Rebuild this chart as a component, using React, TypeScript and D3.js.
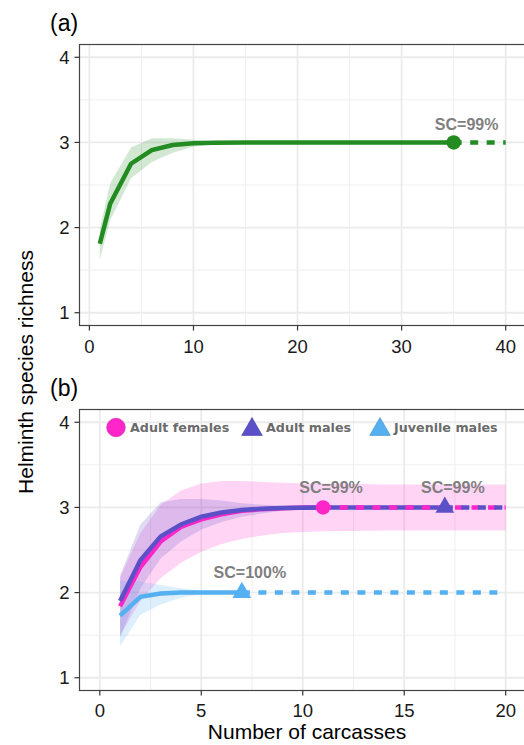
import * as d3 from "d3";

// panel (a): all carcasses
const xA = [1, 2, 4, 6, 8, 10, 12, 15, 20, 25, 30, 35];
const yA = [1.81, 2.28, 2.75, 2.91, 2.97, 2.99, 2.997, 3, 3, 3, 3, 3];
const loA = [1.62, 2.09, 2.58, 2.77, 2.88, 2.95, 2.98, 3, 3, 3, 3, 3];
const hiA = [1.98, 2.52, 2.94, 3.05, 3.05, 3.03, 3.01, 3, 3, 3, 3, 3];
const xAExt = [35, 40];
const yAExt = [3, 3];

// panel (b): by host group
const groups = ["Adult females", "Adult males", "Juvenile males"];
const colors = ["#FF26C9", "#5B50C8", "#55B0F2"];
const coverage = ["SC=99%", "SC=99%", "SC=100%"];

const xF = [1, 2, 3, 4, 5, 6, 7, 8, 9, 10, 11];
const yF = [1.84, 2.3, 2.6, 2.77, 2.86, 2.92, 2.96, 2.98, 2.99, 3, 3];
const loF = [1.5, 1.9, 2.17, 2.35, 2.48, 2.57, 2.63, 2.67, 2.7, 2.71, 2.72];
const hiF = [2.18, 2.7, 3.03, 3.2, 3.28, 3.31, 3.31, 3.3, 3.29, 3.28, 3.28];
const xFExt = [11, 14, 17, 20];
const yFExt = [3, 3, 3, 3];
const loFExt = [2.72, 2.73, 2.73, 2.73];
const hiFExt = [3.28, 3.27, 3.27, 3.27];

const xM = [1, 2, 3, 4, 5, 6, 7, 8, 9, 10, 11, 12, 13, 14, 15, 16, 17];
const yM = [1.9, 2.38, 2.66, 2.8, 2.89, 2.94, 2.97, 2.985, 2.993, 2.997, 3, 3, 3, 3, 3, 3, 3];
const loM = [1.47, 2.05, 2.4, 2.6, 2.74, 2.83, 2.89, 2.93, 2.96, 2.98, 2.99, 3, 3, 3, 3, 3, 3];
const hiM = [2.2, 2.8, 3.06, 3.1, 3.1, 3.08, 3.05, 3.03, 3.02, 3.01, 3.005, 3, 3, 3, 3, 3, 3];
const xMExt = [17, 20];
const yMExt = [3, 3];

const xJ = [1, 2, 3, 4, 5, 6, 7];
const yJ = [1.73, 1.95, 1.99, 2, 2, 2, 2];
const loJ = [1.37, 1.74, 1.86, 1.94, 1.98, 2, 2];
const hiJ = [2.14, 2.13, 2.09, 2.05, 2.02, 2.01, 2];
const xJExt = [7, 20];
const yJExt = [2, 2];

const yTicks = [1, 2, 3, 4];
const yMinor = [1.5, 2.5, 3.5];
const xTicksA = [0, 10, 20, 30, 40];
const xMinorA = [5, 15, 25, 35];
const xTicksB = [0, 5, 10, 15, 20];
const xMinorB = [2.5, 7.5, 12.5, 17.5];

const FONT = "'Liberation Sans', Arial, Helvetica, sans-serif";
const LEFT = 79.5;
const RIGHT = 526; // panel runs off the right edge, like the reference

type Band = { x: number[]; lo: number[]; hi: number[]; fill: string };
type Line = { x: number[]; y: number[]; color: string; dashed?: boolean };
type Mark = { x: number; y: number; color: string; shape: "circle" | "triangle"; label: string };

function Panel(props: {
  top: number;
  bottom: number;
  xDomain: [number, number];
  xTicks: number[];
  xMinor: number[];
  tag: string;
  bands: Band[];
  lines: Line[];
  marks: Mark[];
  labelDx: number;
  labelDy: number;
  tickDy: number;
  children?: any;
}) {
  const { top, bottom } = props;
  const x = d3.scaleLinear().domain(props.xDomain).range([LEFT, RIGHT]);
  const y = d3.scaleLinear().domain([0.85, 4.15]).range([bottom, top]);
  const line = (xs: number[], ys: number[]) =>
    d3
      .line<number>()
      .x((d) => x(d))
      .y((_, i) => y(ys[i]))(xs) || "";
  const band = (b: Band) =>
    d3
      .area<number>()
      .x((d) => x(d))
      .y0((_, i) => y(b.lo[i]))
      .y1((_, i) => y(b.hi[i]))(b.x) || "";

  return (
    <g>
      <text x={50} y={top - 13.5} fontFamily={FONT} fontSize={23} fill="#000">
        {props.tag}
      </text>
      {/* grid */}
      {props.xMinor.map((t) => (
        <line key={"xm" + t} x1={x(t)} x2={x(t)} y1={top} y2={bottom} stroke="#EDEDED" strokeWidth={0.9} />
      ))}
      {yMinor.map((t) => (
        <line key={"ym" + t} x1={LEFT} x2={RIGHT} y1={y(t)} y2={y(t)} stroke="#EDEDED" strokeWidth={0.9} />
      ))}
      {props.xTicks.map((t) => (
        <line key={"xg" + t} x1={x(t)} x2={x(t)} y1={top} y2={bottom} stroke="#EBEBEB" strokeWidth={1.8} />
      ))}
      {yTicks.map((t) => (
        <line key={"yg" + t} x1={LEFT} x2={RIGHT} y1={y(t)} y2={y(t)} stroke="#EBEBEB" strokeWidth={1.8} />
      ))}
      {/* confidence bands */}
      {props.bands.map((b, i) => (
        <path key={"b" + i} d={band(b)} fill={b.fill} fillOpacity={0.2} stroke="none" />
      ))}
      {/* rarefaction (solid) then extrapolation (dashed) */}
      {props.lines.map((l, i) => (
        <path
          key={"l" + i}
          d={line(l.x, l.y)}
          fill="none"
          stroke={l.color}
          strokeWidth={4.5}
          strokeDasharray={l.dashed ? "8,8.5" : undefined}
        />
      ))}
      {/* observed points */}
      {props.marks.map((m, i) => (
        <g key={"m" + i}>
          <path
            transform={`translate(${x(m.x)},${y(m.y)})`}
            d={
              d3
                .symbol()
                .type(m.shape === "circle" ? d3.symbolCircle : d3.symbolTriangle)
                .size(m.shape === "circle" ? 165 : 152)() || ""
            }
            fill={m.color}
          />
          <text
            x={x(m.x) + props.labelDx}
            y={y(m.y) - props.labelDy}
            textAnchor="middle"
            fontFamily={FONT}
            fontWeight="bold"
            fontSize={16}
            fill="#7F7F7F"
          >
            {m.label}
          </text>
        </g>
      ))}
      {props.children}
      {/* border and axes */}
      <rect x={LEFT} y={top} width={RIGHT - LEFT} height={bottom - top} fill="none" stroke="#444" strokeWidth={1.2} />
      {yTicks.map((t) => (
        <g key={"yt" + t}>
          <line x1={LEFT - 5} x2={LEFT} y1={y(t)} y2={y(t)} stroke="#333" strokeWidth={1.2} />
          <text x={LEFT - 10} y={y(t)} dy="0.36em" textAnchor="end" fontFamily={FONT} fontSize={18.5} fill="#1a1a1a">
            {t}
          </text>
        </g>
      ))}
      {props.xTicks.map((t) => (
        <g key={"xt" + t}>
          <line x1={x(t)} x2={x(t)} y1={bottom} y2={bottom + 5} stroke="#333" strokeWidth={1.2} />
          <text x={x(t)} y={bottom + props.tickDy} textAnchor="middle" fontFamily={FONT} fontSize={18.5} fill="#1a1a1a">
            {t}
          </text>
        </g>
      ))}
    </g>
  );
}

export default function App() {
  const legendY = 427.5;
  const legendX = [116, 252, 380];
  const legendSym = (shape: "circle" | "triangle") =>
    d3
      .symbol()
      .type(shape === "circle" ? d3.symbolCircle : d3.symbolTriangle)
      .size(shape === "circle" ? 272 : 186)() || "";

  return (
    <svg width={524} height={745} style={{ position: "absolute", left: 0, top: 0, background: "#fff" }}>
      <Panel
        top={44.5}
        bottom={325.5}
        xDomain={[-0.95, 41.95]}
        xTicks={xTicksA}
        xMinor={xMinorA}
        tag="(a)"
        bands={[{ x: xA, lo: loA, hi: hiA, fill: "#228B22" }]}
        lines={[
          { x: xA, y: yA, color: "#228B22" },
          { x: xAExt, y: yAExt, color: "#228B22", dashed: true },
        ]}
        marks={[{ x: 35, y: 3, color: "#228B22", shape: "circle", label: "SC=99%" }]}
        labelDx={13}
        labelDy={12.5}
        tickDy={27}
      />
      <Panel
        top={409.5}
        bottom={690.5}
        xDomain={[-1, 21]}
        xTicks={xTicksB}
        xMinor={xMinorB}
        tag="(b)"
        bands={[
          { x: xF.concat(xFExt.slice(1)), lo: loF.concat(loFExt.slice(1)), hi: hiF.concat(hiFExt.slice(1)), fill: colors[0] },
          { x: xM, lo: loM, hi: hiM, fill: colors[1] },
          { x: xJ, lo: loJ, hi: hiJ, fill: colors[2] },
        ]}
        lines={[
          { x: xF, y: yF, color: colors[0] },
          { x: xM, y: yM, color: colors[1] },
          { x: xJ, y: yJ, color: colors[2] },
          { x: xFExt, y: yFExt, color: colors[0], dashed: true },
          { x: xMExt, y: yMExt, color: colors[1], dashed: true },
          { x: xJExt, y: yJExt, color: colors[2], dashed: true },
        ]}
        marks={[
          { x: 11, y: 3, color: colors[0], shape: "circle", label: coverage[0] },
          { x: 17, y: 3, color: colors[1], shape: "triangle", label: coverage[1] },
          { x: 7, y: 2, color: colors[2], shape: "triangle", label: coverage[2] },
        ]}
        labelDx={8}
        labelDy={14.5}
        tickDy={26}
      >
        {groups.map((g, i) => (
          <g key={g}>
            <path
              transform={`translate(${legendX[i]},${legendY + (i === 0 ? 0 : 2)})`}
              d={legendSym(i === 0 ? "circle" : "triangle")}
              fill={colors[i]}
              stroke={d3.color(colors[i])?.darker(0.6).toString()}
              strokeWidth={0.6}
            />
            <text
              x={legendX[i] + 14}
              y={legendY + 4.5}
              fontFamily="'DejaVu Sans', Verdana, sans-serif"
              fontWeight="bold"
              fontSize={12.7}
              fill="#6B6B6B"
            >
              {g}
            </text>
          </g>
        ))}
      </Panel>
      <text transform="translate(33,372) rotate(-90)" textAnchor="middle" fontFamily={FONT} fontSize={21} fill="#000">
        Helminth species richness
      </text>
      <text x={307} y={739} textAnchor="middle" fontFamily={FONT} fontSize={21} fill="#000">
        Number of carcasses
      </text>
    </svg>
  );
}
